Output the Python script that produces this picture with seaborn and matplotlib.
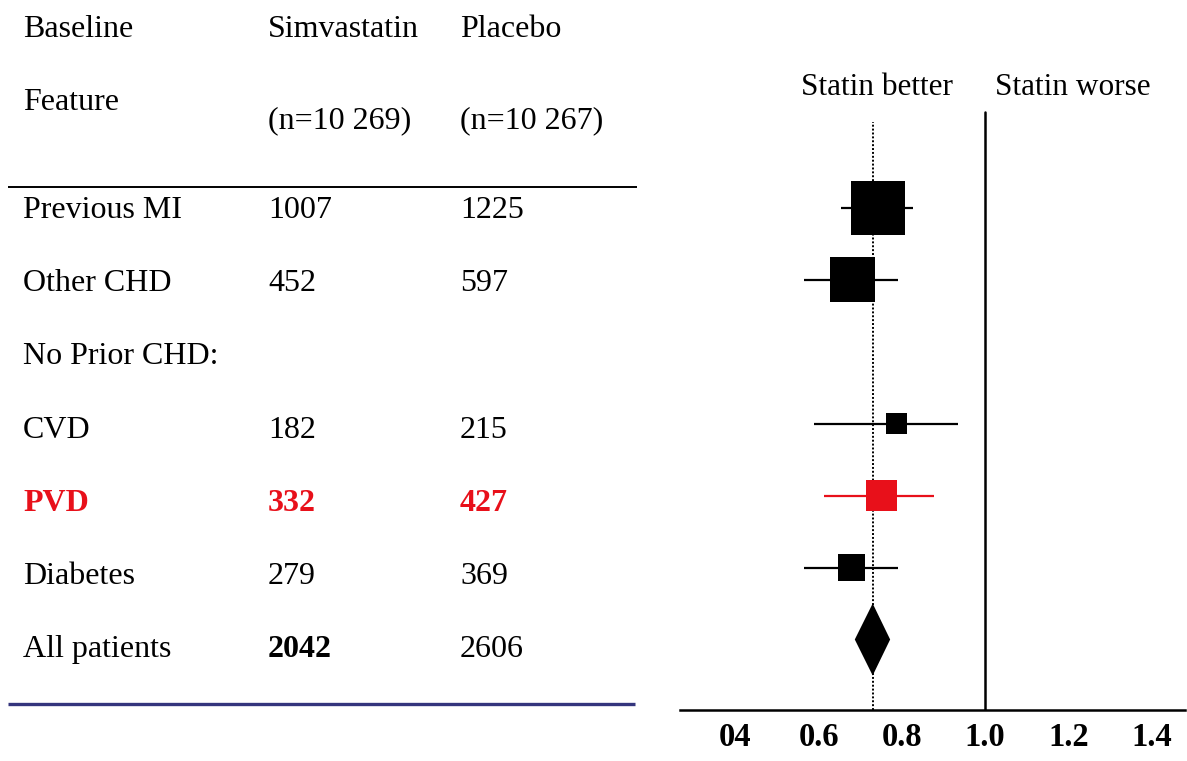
import matplotlib
matplotlib.use("Agg")
import matplotlib.pyplot as plt
import seaborn as sns
import pandas as pd
import numpy as np

# ---------------- data ----------------
row_labels = ["Previous MI", "Other CHD", "No Prior CHD:", "CVD", "PVD", "Diabetes", "All patients"]
simva_events = ["1007", "452", "", "182", "332", "279", "2042"]
placebo_events = ["1225", "597", "", "215", "427", "369", "2606"]
header_cols = ["Baseline", "Simvastatin", "Placebo"]
header_sub = ["Feature", "(n=10 269)", "(n=10 267)"]

# rate ratio estimates, None = no estimate
rr_est = [0.743, 0.681, None, 0.788, 0.752, 0.680, 0.730]
rr_lo = [0.654, 0.565, None, 0.589, 0.613, 0.565, 0.687]
rr_hi = [0.827, 0.791, None, 0.935, 0.877, 0.791, 0.772]
box_weight = [1.00, 0.83, None, 0.39, 0.57, 0.50, None]   # relative box size
overall_rr = 0.730
tick_values = [0.4, 0.6, 0.8, 1.0, 1.2, 1.4]
tick_labels = ["04", "0.6", "0.8", "1.0", "1.2", "1.4"]
side_labels = ["Statin better", "Statin worse"]
highlight_row = "PVD"

# ---------------- style ----------------
sns.set_style("white")
plt.rcParams["font.family"] = ["Liberation Serif", "DejaVu Serif"]
plt.rcParams["text.color"] = "black"
plt.rcParams["xtick.color"] = "black"
plt.rcParams["axes.labelcolor"] = "black"

RED = "#e8101a"
NAVY = "#34357d"
FS = 23

W, H = 1187, 761
fig = plt.figure(figsize=(W / 100, H / 100), dpi=100)

# table layer in pixel coordinates
ax_t = fig.add_axes([0, 0, 1, 1])
ax_t.set_xlim(0, W)
ax_t.set_ylim(H, 0)
ax_t.axis("off")

col_x = [23, 268, 460]
for x, h in zip(col_x, header_cols):
    ax_t.text(x, 37, h, fontsize=FS, va="baseline", ha="left")
ax_t.text(col_x[0], 110, header_sub[0], fontsize=FS, va="baseline", ha="left")
ax_t.text(col_x[1], 128, header_sub[1], fontsize=FS, va="baseline", ha="left")
ax_t.text(col_x[2], 128, header_sub[2], fontsize=FS, va="baseline", ha="left")

ax_t.plot([8, 637], [187, 187], color="black", lw=1.4, solid_capstyle="butt")
ax_t.plot([8, 635], [704, 704], color=NAVY, lw=2.4, solid_capstyle="butt")

for i, (lab, s, p) in enumerate(zip(row_labels, simva_events, placebo_events)):
    yb = 218 + 73.2 * i
    hl = lab == highlight_row
    col = RED if hl else "black"
    wt = "bold" if hl else "normal"
    ax_t.text(col_x[0], yb, lab, fontsize=FS, va="baseline", color=col, fontweight=wt)
    if s:
        ax_t.text(col_x[1], yb, s, fontsize=FS, va="baseline", color=col,
                  fontweight="bold" if (hl or lab == "All patients") else "normal")
    if p:
        ax_t.text(col_x[2], yb, p, fontsize=FS, va="baseline", color=col, fontweight=wt)

ax_t.text(877, 95, side_labels[0], fontsize=22.5, va="baseline", ha="center")
ax_t.text(1073, 95, side_labels[1], fontsize=22.5, va="baseline", ha="center")

# ---------------- forest plot ----------------
ax_top_px, ax_bot_px = 60, 710
ax_l_px, ax_r_px = 680, 1185
ax = fig.add_axes([ax_l_px / W, (H - ax_bot_px) / H, (ax_r_px - ax_l_px) / W, (ax_bot_px - ax_top_px) / H])
ax.patch.set_alpha(0)

row0_px, row_step = 207.5, 72.0
ax.set_ylim((ax_bot_px - row0_px) / row_step, (ax_top_px - row0_px) / row_step)
px_per_unit = 416.0
ax.set_xlim(1 - (985 - ax_l_px) / px_per_unit, 1 + (ax_r_px - 985) / px_per_unit)

df = pd.DataFrame({"label": row_labels, "row": np.arange(len(row_labels)),
                   "est": rr_est, "lo": rr_lo, "hi": rr_hi, "w": box_weight})
boxes = df.dropna(subset=["w"]).copy()
boxes["grp"] = np.where(boxes["label"] == highlight_row, "hl", "normal")

# CI lines
for _, r in boxes.iterrows():
    ax.hlines(r["row"], r["lo"], r["hi"], color=RED if r["grp"] == "hl" else "black", lw=1.6, zorder=2)

max_side_pt = 54 / 100 * 72
sizes = {lab: (w * max_side_pt) ** 2 for lab, w in zip(boxes["label"], boxes["w"])}
sns.scatterplot(data=boxes, x="est", y="row", hue="grp", palette={"normal": "black", "hl": RED},
                size="label", sizes=sizes, marker="s", linewidth=0, legend=False, ax=ax, zorder=3)

# overall diamond
ov = df[df["label"] == "All patients"].iloc[0]
ax.fill([ov["lo"], ov["est"], ov["hi"], ov["est"]],
        [ov["row"], ov["row"] - 0.5, ov["row"], ov["row"] + 0.5], color="black", lw=0, zorder=3)

# reference lines
ax.axvline(1.0, ymin=0, ymax=(ax_bot_px - 112) / (ax_bot_px - ax_top_px), color="black", lw=1.8, zorder=1)
ax.axvline(overall_rr, ymin=0, ymax=(ax_bot_px - 122) / (ax_bot_px - ax_top_px), color="black",
           lw=1.4, ls=(0, (1, 1)), zorder=1)

for sp in ["top", "right", "left"]:
    ax.spines[sp].set_visible(False)
ax.spines["bottom"].set_linewidth(1.8)
ax.spines["bottom"].set_color("black")
ax.set_yticks([])
ax.set_xticks(tick_values)
ax.set_xticklabels(tick_labels, fontsize=23.5, fontweight="bold", color="black")
ax.tick_params(axis="x", length=0, pad=9)
ax.set_xlabel("")
ax.set_ylabel("")

fig.savefig("out.png", dpi=100)
